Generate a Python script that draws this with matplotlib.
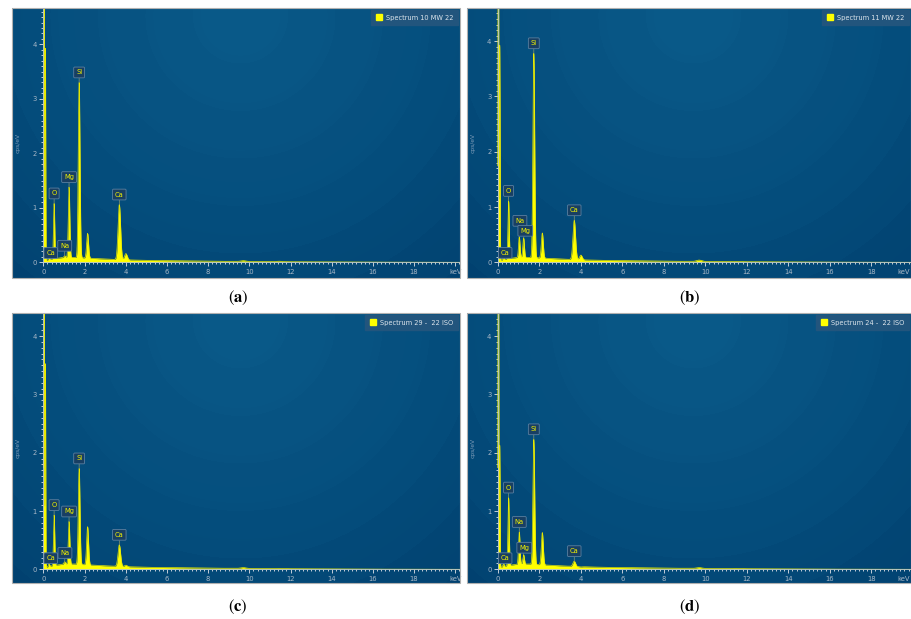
import numpy as np
import matplotlib
matplotlib.use("Agg")
import matplotlib.pyplot as plt
from matplotlib.patches import Patch, Rectangle

plt.rcParams['font.family'] = ['DejaVu Sans']
plt.rcParams['mathtext.fontset'] = 'stix'

# ---------------- data ----------------
line_names = ["C", "O", "Na", "Mg", "Si", "Au M", "Ca", "Ca Kb", "Au La", "Au Lb"]
line_energy = [0.28, 0.525, 1.04, 1.25, 1.74, 2.15, 3.69, 4.01, 9.71, 11.44]

heights_a = [0.10, 1.08, 0.12, 1.38, 3.30, 0.53, 1.06, 0.16, 0.03, 0.02]
heights_b = [0.10, 1.11, 0.46, 0.44, 3.78, 0.53, 0.76, 0.13, 0.04, 0.015]
heights_c = [0.10, 0.93, 0.13, 0.82, 1.73, 0.73, 0.42, 0.07, 0.03, 0.015]
heights_d = [0.10, 1.23, 0.64, 0.25, 2.23, 0.63, 0.14, 0.04, 0.03, 0.015]

# noise peak at zero energy (off scale) and its shoulder, per panel
zero_energy = [0.03, 0.10]
zero_a = [10.0, 3.9]
zero_b = [10.0, 3.9]
zero_c = [10.0, 3.5]
zero_d = [10.0, 2.1]

# continuum level
bg_energy = [0.0, 0.3, 0.6, 1.0, 1.5, 2.0, 2.5, 3.0, 4.0, 5.0, 6.0, 8.0, 10.0, 12.0, 14.0, 16.0, 20.0]
bg_level = [0.02, 0.05, 0.07, 0.09, 0.09, 0.08, 0.07, 0.06, 0.045, 0.035, 0.03, 0.02, 0.015, 0.01, 0.006, 0.003, 0.0]

legend_names = ["Spectrum 10 MW 22", "Spectrum 11 MW 22",
                "Spectrum 29 -  22 ISO", "Spectrum 24 -  22 ISO"]
captions = ["a", "b", "c", "d"]
labeled = ["C", "O", "Na", "Mg", "Si", "Ca"]
label_text = {"C": "Ca", "O": "O", "Na": "Na", "Mg": "Mg", "Si": "Si", "Ca": "Ca"}

x_major = [0, 2, 4, 6, 8, 10, 12, 14, 16, 18, 20]
x_major_labels = ["0", "2", "4", "6", "8", "10", "12", "14", "16", "18", "keV"]
y_major = [0, 1, 2, 3, 4]

# ---------------- layout (pixels) ----------------
W, H = 911, 619
panels = [
    # box (x1, y1, x2, y2), x0px, px/keV, y0px, px/unit
    dict(box=(12, 8, 460, 278), x0=43.3, sx=20.6, y0=262.3, sy=54.5, h=heights_a, z=zero_a,
         lab={"C": (0.36, 0.17)}),
    dict(box=(467, 8, 911, 278), x0=497.7, sx=20.75, y0=262.3, sy=55.3, h=heights_b, z=zero_b,
         lab={"C": (0.36, 0.17), "Na": (1.07, 0.75), "Mg": (1.33, 0.57)}),
    dict(box=(12, 313, 460, 583), x0=43.3, sx=20.6, y0=569.3, sy=58.3, h=heights_c, z=zero_c,
         lab={"C": (0.36, 0.19), "Na": (1.05, 0.28)}),
    dict(box=(467, 313, 911, 583), x0=497.7, sx=20.75, y0=569.3, sy=58.3, h=heights_d, z=zero_d,
         lab={"C": (0.36, 0.19), "Mg": (1.28, 0.37)}),
]
cap_pos = [(238, 298), (690, 298), (238, 607), (690, 607)]

fig = plt.figure(figsize=(W / 100, H / 100), dpi=100)
fig.patch.set_facecolor("white")

c_center = np.array([10, 90, 137]) / 255
c_mid = np.array([5, 78, 125]) / 255
c_edge = np.array([1, 62, 108]) / 255

xs = np.linspace(0, 20.5, 6001)
bg = np.interp(xs, bg_energy, bg_level)


def sigma(e):
    return 0.025 + 0.010 * e


for i, p in enumerate(panels):
    x1, y1, x2, y2 = p["box"]
    pw, ph = x2 - x1, y2 - y1
    ax = fig.add_axes([x1 / W, 1 - y2 / H, pw / W, ph / H])

    # radial background (soft concentric bands)
    gx, gy = np.meshgrid(np.arange(pw) + 0.5, np.arange(ph) + 0.5)
    cx, cy = 0.51 * pw, 8
    r = np.hypot(gx - cx, gy - cy)
    t = np.clip(r / 380.0, 0, 1)
    t = np.floor(t * 8) / 8 * 0.6 + t * 0.4
    img = np.where(t[..., None] < 0.5,
                   c_center * (1 - 2 * t[..., None]) + c_mid * 2 * t[..., None],
                   c_mid * (2 - 2 * t[..., None]) + c_edge * (2 * t[..., None] - 1))
    ax.imshow(img, extent=(0, 1, 0, 1), transform=ax.transAxes, aspect="auto",
              zorder=0, interpolation="bilinear")

    xlim = ((x1 - p["x0"]) / p["sx"], (x2 - p["x0"]) / p["sx"])
    ylim = ((p["y0"] - y2) / p["sy"], (p["y0"] - y1) / p["sy"])

    # spectrum
    ys = bg.copy()
    for e, hgt in zip(zero_energy, p["z"]):
        ys += hgt * np.exp(-0.5 * ((xs - e) / 0.016) ** 2)
    bg_at = np.interp(line_energy, bg_energy, bg_level)
    for e, hgt, b in zip(line_energy, p["h"], bg_at):
        ys += (hgt - b) * np.exp(-0.5 * ((xs - e) / sigma(e)) ** 2)
    ax.fill_between(xs, 0, ys, color="#ffff00", lw=0, zorder=2)
    ax.plot(xs, ys, color="#e8e800", lw=0.5, zorder=2)

    # peak labels
    for name in labeled:
        k = line_names.index(name)
        e, hgt = line_energy[k], p["h"][k]
        tip = (e, hgt)
        style = dict(ha="center", va="center", fontsize=4.9, color="#f2f200",
                     bbox=dict(boxstyle="round,pad=0.35,rounding_size=0.15",
                               fc="#183f63", ec="#5a7fa0", lw=0.6),
                     arrowprops=dict(arrowstyle="-", color="#8f9a6a", lw=0.5,
                                     shrinkA=0, shrinkB=0),
                     zorder=5)
        if name in p["lab"]:
            ax.annotate(label_text[name], xy=tip, xytext=p["lab"][name],
                        textcoords="data", **style)
        else:
            ax.annotate(label_text[name], xy=tip, xytext=(0, 10),
                        textcoords="offset pixels", **style)

    ax.set_xlim(*xlim)
    ax.set_ylim(*ylim)

    # axes styling
    for s in ("top", "right"):
        ax.spines[s].set_visible(False)
    ax.spines["left"].set_position(("data", 0))
    ax.spines["bottom"].set_position(("data", 0))
    ax.spines["left"].set_bounds(0, ylim[1])
    ax.spines["bottom"].set_bounds(0, xlim[1])
    for s in ("left", "bottom"):
        ax.spines[s].set_color("#b9c6d3")
        ax.spines[s].set_linewidth(0.6)
        ax.spines[s].set_zorder(3)

    xm = [v for v in x_major if v <= xlim[1]]
    ax.set_xticks(xm)
    ax.set_xticklabels(x_major_labels[:len(xm)])
    if len(xm) < len(x_major):
        ax.annotate(x_major_labels[-1], xy=(0.997, 0), xycoords=("axes fraction", "data"),
                    xytext=(0, -4.5), textcoords="offset points",
                    ha="right", va="top", fontsize=4.9, color="#a9b8c7")
    ax.set_xticks(np.arange(0, xlim[1], 0.2), minor=True)
    ax.set_yticks(y_major)
    ax.set_yticks(np.arange(0, ylim[1], 0.1), minor=True)
    ax.tick_params(which="both", direction="out", colors="#c3ced9", labelcolor="#a9b8c7",
                   labelsize=4.9, width=0.7, pad=1.5)
    ax.tick_params(which="major", length=3.0)
    ax.tick_params(which="minor", length=1.6)

    ax.text(0.014, 0.5, "cps/eV", transform=ax.transAxes, rotation=90,
            fontsize=4.3, color="#7e9cb8", ha="center", va="center")

    leg = ax.legend(handles=[Patch(fc="#ffff00", ec="#ffff00", label=legend_names[i])],
                    loc="upper right", fontsize=4.8, frameon=True, fancybox=False,
                    borderpad=0.7, handlelength=1.0, handleheight=1.0, handletextpad=0.6,
                    borderaxespad=0.25)
    leg.get_frame().set_facecolor("#22557d")
    leg.get_frame().set_edgecolor("#22557d")
    leg.get_frame().set_alpha(1)
    for tx in leg.get_texts():
        tx.set_color("#dde5ec")

    # panel border
    ax.add_patch(Rectangle((0, 0), 1, 1, transform=ax.transAxes, fill=False,
                           ec="#b0b0b0", lw=0.8, clip_on=False, zorder=6))

    cxp, cyp = cap_pos[i]
    fig.text(cxp / W, 1 - cyp / H, "($\\mathbf{%s}$)" % captions[i], fontsize=12,
             family="STIXGeneral", ha="center", va="center", color="black")

fig.savefig("out.png", dpi=100, facecolor="white")
